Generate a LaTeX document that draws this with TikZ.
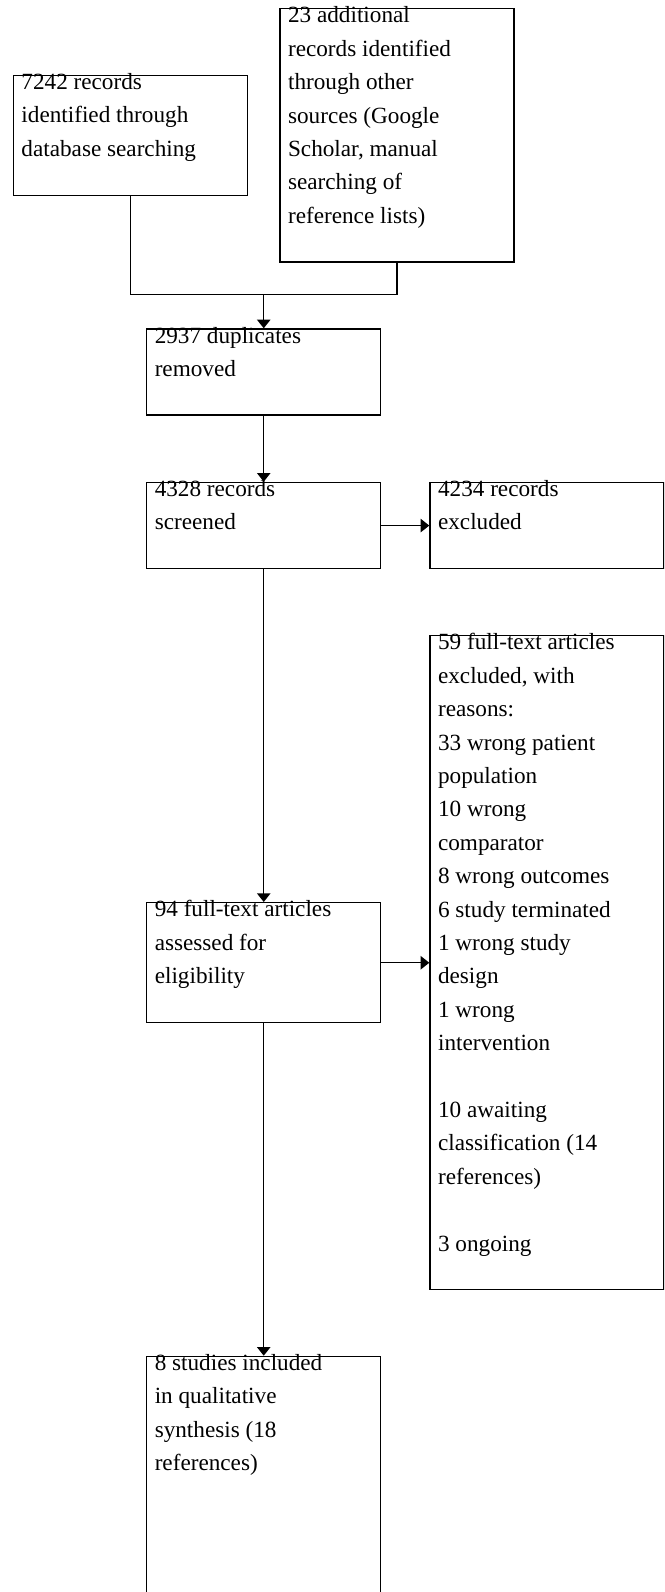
\documentclass[tikz,border=0pt]{standalone}
\usepackage{fontspec}
\setmainfont{Liberation Serif}
\usetikzlibrary{arrows.meta}
\newcommand\boxlines[1]{{\fontsize{17.4}{25.05}\selectfont\begin{tabular}[t]{@{}l@{}}#1\end{tabular}}}
\tikzset{
  flowbox/.style={draw=black, line width=1.1pt, rectangle, inner sep=0pt, anchor=north west, minimum width=175.5pt},
  boxtext/.style={anchor=base west, inner sep=0pt, text=black},
  arr/.style={line width=1.1pt, -{Triangle[width=10pt,length=6.5pt]}},
  conn/.style={line width=1.1pt}
}
\begin{document}
\begin{tikzpicture}[x=0.75pt,y=-0.75pt]
\useasboundingbox (0,0) rectangle (664,1592);
\clip (0,0) rectangle (664,1592);
% boxes
\node[flowbox, minimum height=90pt] (b1) at (12.7,74.7) {};
\node[flowbox, minimum height=190pt] (b2) at (279.3,8) {};
\node[flowbox, minimum height=64.3pt] (b3) at (146,328.3) {};
\node[flowbox, minimum height=64.7pt] (b4) at (146,481.7) {};
\node[flowbox, minimum height=64.7pt] (b5) at (429.3,481.7) {};
\node[flowbox, minimum height=490.3pt] (b6) at (429.3,635) {};
\node[flowbox, minimum height=90pt] (b7) at (146,902) {};
\node[flowbox, minimum height=200pt] (b8) at (146,1355.7) {};
% texts
\node[boxtext] (t1) at (21.2,89.5) {\boxlines{7242 records\\ identified through\\ database searching}};
\node[boxtext] (t2) at (287.8,22.8) {\boxlines{23 additional\\ records identified\\ through other\\ sources (Google\\ Scholar, manual\\ searching of\\ reference lists)}};
\node[boxtext] (t3) at (154.5,343.1) {\boxlines{2937 duplicates\\ removed}};
\node[boxtext] (t4) at (154.5,496.5) {\boxlines{4328 records\\ screened}};
\node[boxtext] (t5) at (437.8,496.5) {\boxlines{4234 records\\ excluded}};
\node[boxtext] (t6) at (437.8,649.8) {\boxlines{59 full-text articles\\ excluded, with\\ reasons:\\ 33 wrong patient\\ population\\ 10 wrong\\ comparator\\ 8 wrong outcomes\\ 6 study terminated\\ 1 wrong study\\ design\\ 1 wrong\\ intervention\\ \\ 10 awaiting\\ classification (14\\ references)\\ \\ 3 ongoing}};
\node[boxtext] (t7) at (154.5,916.8) {\boxlines{94 full-text articles\\ assessed for\\ eligibility}};
\node[boxtext] (t8) at (154.5,1370.5) {\boxlines{8 studies included\\ in qualitative\\ synthesis (18\\ references)}};
% connectors
\path (b3.north) ++(0,-33.6) coordinate (m);
\draw[conn] (b1.south) |- (m) -| (b2.south);
\draw[arr] (m) -- (b3.north);
\draw[arr] (b3.south) -- (b4.north);
\draw[arr] (b4.east) -- (b5.west);
\draw[arr] (b4.south) -- (b7.north);
\draw[arr] (b7.east) -- (b7.east -| b6.west);
\draw[arr] (b7.south) -- (b8.north);
\end{tikzpicture}
\end{document}
